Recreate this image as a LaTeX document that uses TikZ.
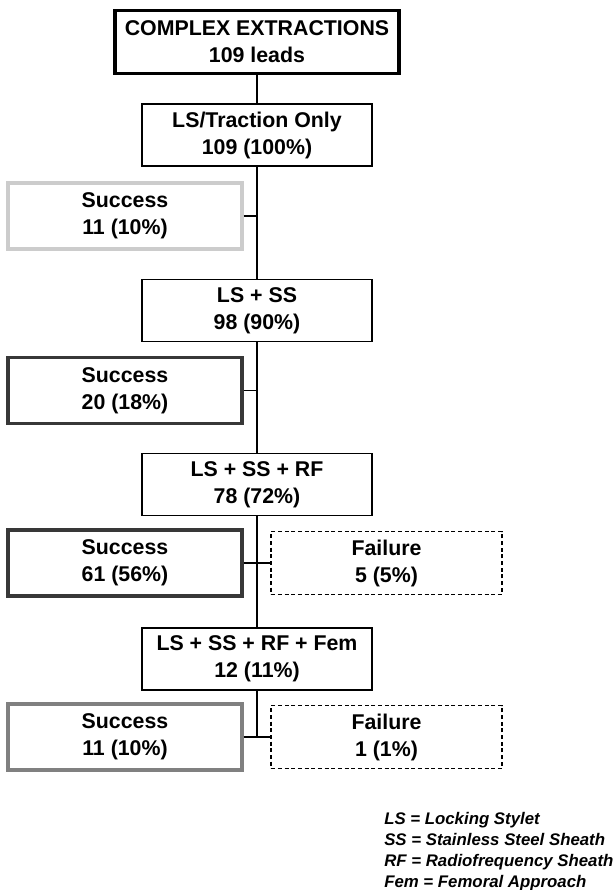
\documentclass[tikz,border=0pt]{standalone}
\usepackage{fontspec}
\setmainfont{Liberation Sans}
\usepackage{tikz}
\definecolor{darkline}{gray}{0.22}
\definecolor{midline}{gray}{0.50}
\definecolor{lightline}{gray}{0.80}

\begin{document}
\begin{tikzpicture}[x=0.75pt, y=-0.75pt,
  every node/.style={font=\fontsize{16}{20.25}\selectfont\bfseries, align=center, inner sep=0pt},
  stepbox/.style={draw, line width=1.1pt, minimum width=172.5pt, minimum height=46.5pt},
  okbox/.style={draw, line width=2.5pt, minimum width=175.5pt, minimum height=49.5pt},
  failbox/.style={draw, line width=1.1pt, dash pattern=on 3pt off 2pt, minimum width=173pt, minimum height=47pt},
  link/.style={line width=1.1pt}]
  \useasboundingbox (0,0) rectangle (616,890);
  % main column
  \node[draw, line width=2.6pt, minimum width=213pt, minimum height=47.25pt] (start) at (257,42) {COMPLEX EXTRACTIONS\\109 leads};
  \node[stepbox] (traction) at (257,135) {LS/Traction Only\\109 (100\%)};
  \node[stepbox] (ss) at (257,310.5) {LS + SS\\98 (90\%)};
  \node[stepbox] (rf) at (257,484.5) {LS + SS + RF\\78 (72\%)};
  \node[stepbox] (fem) at (257,659) {LS + SS + RF + Fem\\12 (11\%)};
  % outcomes
  \node[okbox, draw=lightline] (ok1) at (125,216) {Success\\11 (10\%)};
  \node[okbox, draw=darkline] (ok2) at (125,390.5) {Success\\20 (18\%)};
  \node[okbox, draw=darkline] (ok3) at (125,563) {Success\\61 (56\%)};
  \node[failbox] (fail3) at (386.5,563) {Failure\\5 (5\%)};
  \node[okbox, draw=midline] (ok4) at (125,737) {Success\\11 (10\%)};
  \node[failbox] (fail4) at (386.5,737) {Failure\\1 (1\%)};
  % connectors
  \draw[link] (start) -- (traction);
  \draw[link] (traction) -- (ss);
  \draw[link] (ss) -- (rf);
  \draw[link] (rf) -- (fem);
  \draw[link] (fem.south) -- (fem.south |- ok4.east);
  \draw[link] (ok1.east) -- (ok1.east -| traction.south);
  \draw[link] (ok2.east) -- (ok2.east -| ss.south);
  \draw[link] (ok3.east) -- (fail3.west);
  \draw[link] (ok4.east) -- (fail4.west);
  % legend
  \node[anchor=north west, align=left, font=\fontsize{12.6}{15.75}\selectfont\bfseries\itshape] (legend) at (384,812)
    {LS = Locking Stylet\\SS = Stainless Steel Sheath\\RF = Radiofrequency Sheath\\Fem = Femoral Approach};
\end{tikzpicture}
\end{document}
